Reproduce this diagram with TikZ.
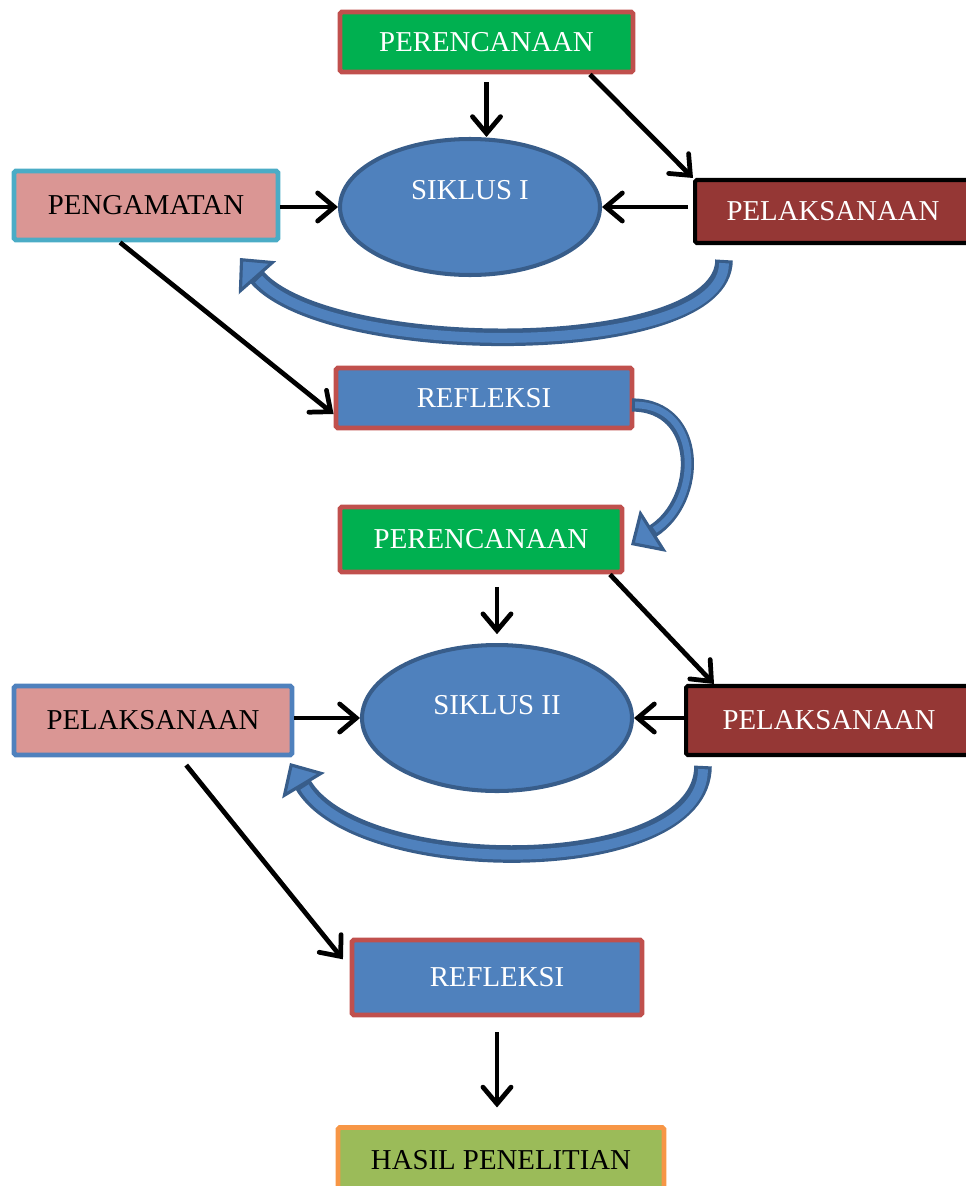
\documentclass[tikz,border=0pt]{standalone}
\usepackage{fontspec}
\setmainfont{Liberation Serif}
\usetikzlibrary{shapes.geometric,arrows.meta}
\definecolor{hijau}{HTML}{00B050}
\definecolor{merahtepi}{HTML}{C0504D}
\definecolor{biru}{HTML}{4F81BD}
\definecolor{birutua}{HTML}{385D8A}
\definecolor{coklat}{HTML}{953735}
\definecolor{merahmuda}{HTML}{DA9694}
\definecolor{tosca}{HTML}{4BACC6}
\definecolor{hijaumuda}{HTML}{9BBB59}
\definecolor{oranye}{HTML}{F79646}
\begin{document}
\begin{tikzpicture} [
				x=0.02cm, y=-0.02cm,
				kotak/.style={rectangle,line width=2.8pt,rounded corners=1pt,inner sep=0pt,font=\fontsize{16.4}{20}\selectfont},
				hijaubox/.style={kotak,fill=hijau,draw=merahtepi,text=white},
				birubox/.style={kotak,fill=biru,draw=merahtepi,text=white},
				coklatbox/.style={kotak,fill=coklat,draw=black,line width=2.3pt,text=white},
				pinkbox/.style={kotak,fill=merahmuda,text=black},
				siklus/.style={ellipse,fill=biru,draw=birutua,line width=2.3pt,text=white,inner sep=0pt,font=\fontsize{16.4}{20}\selectfont,minimum width=5.2cm,minimum height=2.72cm},
				panah/.style={draw,line width=2.7pt,-{Straight Barb[length=9.5pt,width=16pt,line cap=round]}},
				blok/.style={draw=birutua,line width=10pt,-{Triangle[length=15pt,width=28pt,fill=biru,line width=1.8pt]}},
				blokisi/.style={draw=biru,line width=5.6pt,shorten <=1.8pt,shorten >=16pt}
			]
			\useasboundingbox (0,0) rectangle (966,1186);
			\node[hijaubox,minimum width=5.86cm,minimum height=1.2cm] (peren1) at (486.5,42) {PERENCANAAN};
			\node[siklus] (siklus1) at (470,207) {\raisebox{0.34cm}[\height][\depth]{SIKLUS I}};
			\node[pinkbox,draw=tosca,minimum width=5.28cm,minimum height=1.38cm] (pengamatan) at (146,205.5) {PENGAMATAN};
			\node[coklatbox,minimum width=5.52cm,minimum height=1.26cm] (pelak1) at (833,211.5) {PELAKSANAAN};
			\node[birubox,minimum width=5.92cm,minimum height=1.2cm] (refl1) at (484,398) {REFLEKSI};
			\node[hijaubox,minimum width=5.64cm,minimum height=1.3cm] (peren2) at (481,539.5) {PERENCANAAN};
			\node[siklus,minimum width=5.4cm,minimum height=2.92cm] (siklus2) at (497,718) {\raisebox{0.26cm}[\height][\depth]{SIKLUS II}};
			\node[pinkbox,draw=biru,minimum width=5.56cm,minimum height=1.38cm] (pelak2) at (153,720.5) {PELAKSANAAN};
			\node[coklatbox,minimum width=5.72cm,minimum height=1.38cm] (pelak3) at (829,720.5) {PELAKSANAAN};
			\node[birubox,minimum width=5.8cm,minimum height=1.5cm] (refl2) at (497,977.5) {REFLEKSI};
			\node[kotak,fill=hijaumuda,draw=oranye,minimum width=6.52cm,minimum height=1.3cm] (hasil) at (501,1160) {HASIL PENELITIAN};
			\draw[panah,shorten <=4.5pt] (peren1.south) -- (peren1.south |- siklus1.north);
			\draw[panah] ([xshift=2.07cm]peren1.south) -- (pelak1.north west);
			\draw[panah] (pengamatan.east |- siklus1) -- (siklus1.west);
			\draw[panah,shorten <=2.8pt] (pelak1.west |- siklus1) -- (siklus1.east);
			\draw[panah] ([xshift=-0.52cm]pengamatan.south) -- ([yshift=-0.32cm]refl1.west);
			\draw[panah,shorten <=7pt,shorten >=5pt] (siklus2.north |- peren2.south) -- (siklus2.north);
			\draw[panah] ([xshift=2.58cm]peren2.south) -- ([xshift=0.6cm]pelak3.north west);
			\draw[panah] (pelak2.east |- siklus2) -- (siklus2.west);
			\draw[panah] (pelak3.west |- siklus2) -- (siklus2.east);
			\draw[panah,shorten <=5.6pt,shorten >=6pt] ([xshift=0.54cm]pelak2.south) -- ([yshift=0.2cm]refl2.west);
			\draw[panah,shorten <=8.5pt,shorten >=10pt] (refl2.south) -- (refl2.south |- hasil.north);
			\coordinate (ekor1) at (724,260);
			\coordinate (ujung1) at (240,258);
			\coordinate (ekor2) at (632,405);
			\coordinate (ujung2) at (631,545);
			\coordinate (ekor3) at (703,766);
			\coordinate (ujung3) at (290,763);
			\draw[blok] (ekor1) .. controls (724,360) and (330,360) .. (ujung1);
			\draw[blokisi] (ekor1) .. controls (724,360) and (330,360) .. (ujung1);
			\draw[blok,line width=7.5pt] (ekor2) .. controls (702,405) and (702,500) .. (ujung2);
			\draw[blokisi,line width=3.8pt] (ekor2) .. controls (702,405) and (702,500) .. (ujung2);
			\draw[blok] (ekor3) .. controls (703,880) and (360,880) .. (ujung3);
			\draw[blokisi] (ekor3) .. controls (703,880) and (360,880) .. (ujung3);
		\end{tikzpicture}
\end{document}
